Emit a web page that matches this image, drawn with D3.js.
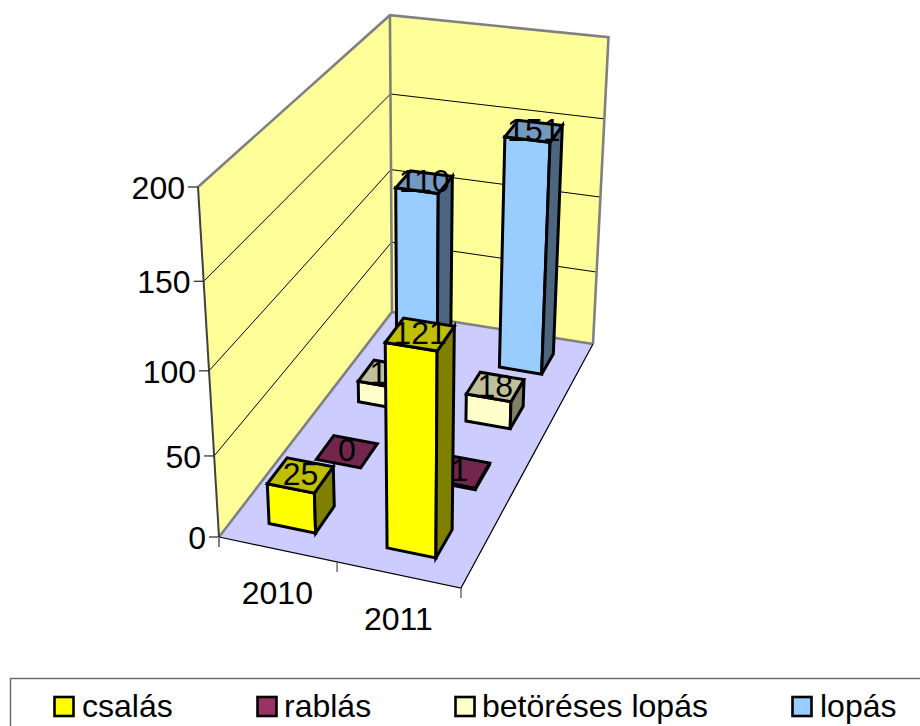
<!DOCTYPE html>
<html><head><meta charset="utf-8">
<script src="https://cdnjs.cloudflare.com/ajax/libs/d3/7.8.5/d3.min.js"></script>
<style>html,body{margin:0;padding:0;background:#fff;overflow:hidden}svg{display:block}text{font-family:"Liberation Sans",Arial,sans-serif;fill:#000}</style>
</head><body><svg id="c" width="920" height="726"></svg>
<script>
// ---- data ----
const categories = ["2010", "2011"];
const seriesNames = ["csalás", "rablás", "betöréses lopás", "lopás"];
const csalas = [25, 121];
const rablas = [0, 1];
const betoreses = [14, 18];
const lopas = [110, 151];
const seriesValues = [csalas, rablas, betoreses, lopas];
const seriesColors = ["#FFFF00", "#993366", "#FFFFCC", "#99CCFF"];
const valueTicks = [0, 50, 100, 150, 200];

// ---- projection of the unit box onto the page (from the box corners) ----
const A=[219,537], G=[461,588], C=[392,312], E=[593,344], B=[198,187];
function solveBase(){
  const a1=G[0]-E[0], b1=C[0]-E[0], r1=E[0]-G[0]-C[0]+A[0];
  const a2=G[1]-E[1], b2=C[1]-E[1], r2=E[1]-G[1]-C[1]+A[1];
  const det=a1*b2-b1*a2;
  return [(r1*b2-b1*r2)/det,(a1*r2-r1*a2)/det];
}
const [pg,ph]=solveBase();
const pi=-0.096;
const va=[G[0]*(1+pg)-A[0],G[1]*(1+pg)-A[1]];
const vb=[C[0]*(1+ph)-A[0],C[1]*(1+ph)-A[1]];
const vc=[B[0]*(1+pi)-A[0],B[1]*(1+pi)-A[1]];
function P(x,y,z){
  const w=1+pg*x+ph*y+pi*z;
  return [(A[0]+va[0]*x+vb[0]*y+vc[0]*z)/w,(A[1]+va[1]*x+vb[1]*y+vc[1]*z)/w];
}

// ---- scales ----
const xS=d3.scaleBand().domain(categories).range([0,1]).paddingInner(0.6).paddingOuter(0.3);
const yS=d3.scaleBand().domain(seriesNames).range([0,1]).paddingInner(0.6).paddingOuter(0.3);
const zS=d3.scaleLinear().domain([0,200]).range([0,1]);
const xCell=d3.scaleBand().domain(categories).range([0,1]);

const svg=d3.select("#c");
const poly=pts=>d3.line()(pts)+"Z";
const GRAY="#808080";
function face(g,pts,fill,stroke,sw){
  g.append("path").attr("d",poly(pts)).attr("fill",fill).attr("stroke",stroke).attr("stroke-width",sw).attr("stroke-linejoin","miter");
}
const walls=svg.append("g");
face(walls,[P(0,0,0),P(1,0,0),P(1,1,0),P(0,1,0)],"#CCCCFF","none",0);
face(walls,[P(0,0,0),P(0,1,0),P(0,1,1),P(0,0,1)],"#FFFF99","none",0);
face(walls,[P(0,1,0),P(1,1,0),P(1,1,1),P(0,1,1)],"#FFFF99","none",0);

// gridlines
valueTicks.slice(1,-1).forEach(v=>{
  const z=zS(v);
  walls.append("path").attr("d",d3.line()([P(0,0,z),P(0,1,z),P(1,1,z)])).attr("fill","none").attr("stroke","#000").attr("stroke-width",1);
});
// box edges
const edge=(pts,c,w)=>walls.append("path").attr("d",d3.line()(pts)).attr("fill","none").attr("stroke",c).attr("stroke-width",w).attr("stroke-linejoin","miter");
edge([P(0,0,1),P(0,1,1),P(1,1,1),P(1,1,0)],GRAY,2.6);
edge([P(0,1,1),P(0,1,0)],GRAY,2.6);
edge([P(0,0,0),P(0,1,0),P(1,1,0)],GRAY,2.6);
edge([P(0,0,1),P(0,0,0)],"#404040",2);
edge([P(0,0,0),P(1,0,0),P(1,1,0)],"#000",1.2);

// value axis ticks and labels
const axisG=svg.append("g");
valueTicks.forEach(v=>{
  const p=P(0,0,zS(v));
  axisG.append("path").attr("d",d3.line()([[p[0]-10,p[1]],p])).attr("stroke","#222").attr("stroke-width",1.2).attr("fill","none");
  axisG.append("text").attr("x",p[0]-13).attr("y",p[1]+12).attr("text-anchor","end").attr("font-size",32).text(v);
});
// category ticks and labels
const catEdges=[0,0.5,1];
catEdges.forEach(x=>{
  const p=P(x,0,0);
  axisG.append("path").attr("d",d3.line()([p,[p[0],p[1]+10]])).attr("stroke",x===0?GRAY:"#555").attr("stroke-width",x===0?2:1.3).attr("fill","none");
});
categories.forEach(c=>{
  const p=P(xCell(c)+xCell.bandwidth()/2,0,0);
  axisG.append("text").attr("x",p[0]).attr("y",p[1]+55).attr("text-anchor","middle").attr("font-size",32).text(c);
});

// bars, back row first
const bars=svg.append("g");
d3.range(seriesNames.length-1,-1,-1).forEach(si=>{
  const name=seriesNames[si], col=d3.rgb(seriesColors[si]);
  const shade=k=>d3.rgb(col.r*k,col.g*k,col.b*k).formatHex();
  categories.forEach((c,ci)=>{
    const v=seriesValues[si][ci];
    const x0=xS(c),x1=x0+xS.bandwidth(),y0=yS(name),y1=y0+yS.bandwidth(),z=zS(v);
    const g=bars.append("g");
    if(v>0){
      face(g,[P(x0,y0,0),P(x1,y0,0),P(x1,y0,z),P(x0,y0,z)],shade(1),"#000",3);
      face(g,[P(x1,y0,0),P(x1,y1,0),P(x1,y1,z),P(x1,y0,z)],shade(0.5),"#000",3);
    }
    face(g,[P(x0,y0,z),P(x1,y0,z),P(x1,y1,z),P(x0,y1,z)],shade(0.75),"#000",3);
    const t=P((x0+x1)/2,(y0+y1)/2,z);
    g.append("text").attr("x",t[0]).attr("y",t[1]+10).attr("text-anchor","middle").attr("font-size",32).text(v);
  });
});

// legend
const legend=svg.append("g");
legend.append("rect").attr("x",10.5).attr("y",678.5).attr("width",940).attr("height",80).attr("fill","#fff").attr("stroke","#666").attr("stroke-width",1.4);
const legendSwatchX=[54.5,257.5,455.5,792.5];
const legendTextX=[82,284,482,820];
seriesNames.forEach((n,i)=>{
  legend.append("rect").attr("x",legendSwatchX[i]).attr("y",697).attr("width",19).attr("height",19).attr("fill",seriesColors[i]).attr("stroke","#000").attr("stroke-width",2.6);
  legend.append("text").attr("x",legendTextX[i]).attr("y",717).attr("font-size",32).text(n);
});
</script></body></html>
